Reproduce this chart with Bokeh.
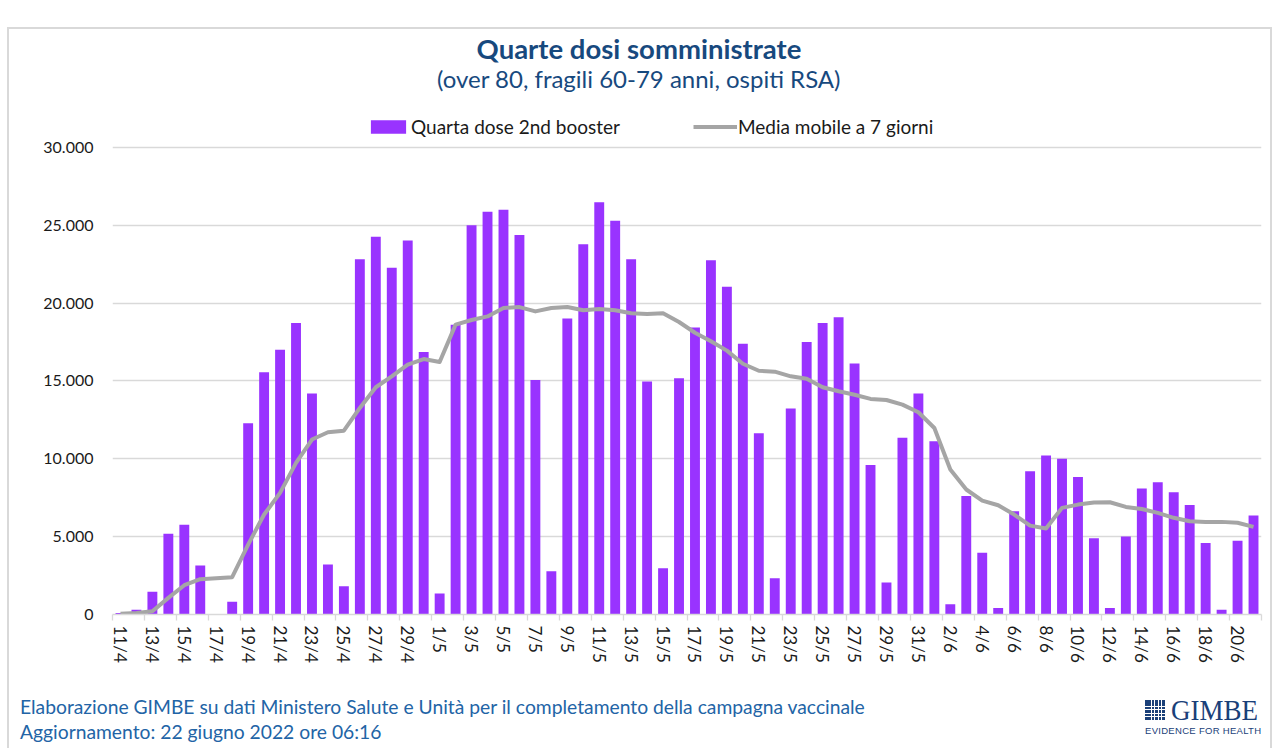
import math
from bokeh.plotting import figure
from bokeh.models import (ColumnDataSource, FixedTicker, Label, Legend, LegendItem,
                          Range1d, Div)
from bokeh.layouts import column
from bokeh.embed import file_html
from bokeh.resources import INLINE

# ---------------- data ----------------
dates = ["11/4", "12/4", "13/4", "14/4", "15/4", "16/4", "17/4", "18/4", "19/4", "20/4",
         "21/4", "22/4", "23/4", "24/4", "25/4", "26/4", "27/4", "28/4", "29/4", "30/4",
         "1/5", "2/5", "3/5", "4/5", "5/5", "6/5", "7/5", "8/5", "9/5", "10/5",
         "11/5", "12/5", "13/5", "14/5", "15/5", "16/5", "17/5", "18/5", "19/5", "20/5",
         "21/5", "22/5", "23/5", "24/5", "25/5", "26/5", "27/5", "28/5", "29/5", "30/5",
         "31/5", "1/6", "2/6", "3/6", "4/6", "5/6", "6/6", "7/6", "8/6", "9/6",
         "10/6", "11/6", "12/6", "13/6", "14/6", "15/6", "16/6", "17/6", "18/6", "19/6",
         "20/6", "21/6"]

quarta_dose = [100, 300, 1460, 5180, 5760, 3150, 0, 820, 12290, 15560,
               17000, 18730, 14190, 3210, 1820, 22820, 24270, 22280, 24030, 16870,
               1350, 18620, 25000, 25880, 26000, 24380, 15070, 2780, 19010, 23780,
               26480, 25300, 22820, 14960, 2970, 15170, 18430, 22750, 21060, 17400,
               11640, 2330, 13230, 17510, 18730, 19090, 16120, 9610, 2050, 11350,
               14190, 11130, 660, 7620, 3960, 410, 6630, 9200, 10210, 10000,
               8840, 4900, 410, 5010, 8090, 8500, 7850, 7040, 4600, 300,
               4730, 6360]

media_mobile = [50, 90, 210, 1070, 1880, 2270, 2330, 2400, 4490, 6420,
                7810, 9740, 11240, 11710, 11810, 13270, 14600, 15300, 16050, 16410,
                16220, 18620, 18920, 19150, 19690, 19750, 19470, 19690, 19750, 19540,
                19620, 19540, 19350, 19300, 19350, 18790, 18100, 17550, 16950, 16110,
                15660, 15600, 15300, 15150, 14600, 14340, 14120, 13850, 13780, 13480,
                12990, 11980, 9310, 8030, 7320, 7020, 6420, 5710, 5520, 6850,
                7060, 7190, 7210, 6910, 6780, 6530, 6210, 5990, 5950, 5950,
                5890, 5630]

y_ticks = [0, 5000, 10000, 15000, 20000, 25000, 30000]
y_tick_labels = ["0", "5.000", "10.000", "15.000", "20.000", "25.000", "30.000"]

title_text = "Quarte dosi somministrate"
subtitle_text = "(over 80, fragili 60-79 anni, ospiti RSA)"
legend_bar = "Quarta dose 2nd booster"
legend_line = "Media mobile a 7 giorni"
footer1 = "Elaborazione GIMBE su dati Ministero Salute e Unità per il completamento della campagna vaccinale"
footer2 = "Aggiornamento: 22 giugno 2022 ore 06:16"
logo_name = "GIMBE"
logo_tag = "EVIDENCE FOR HEALTH"

# ---------------- figure ----------------
W, H = 1261, 641
FONT = "Lato"
idx = list(range(len(dates)))
src = ColumnDataSource(dict(x=idx, dose=quarta_dose, media=media_mobile, d=dates))

# frame top is extended above 30.000 so that titles and legend sit inside the frame
p = figure(width=W, height=H, output_backend="svg", toolbar_location=None,
           x_range=Range1d(-0.5, len(dates) - 0.5), y_range=Range1d(0, 37580),
           min_border_left=103, min_border_right=9, min_border_top=0, min_border_bottom=56)
p.outline_line_color = None
p.background_fill_color = "white"
p.border_fill_color = "white"

bars = p.vbar(x="x", top="dose", width=0.62, source=src, fill_color="#9933FF", line_color=None)
line = p.line(x="x", y="media", source=src, line_color="#A5A5A5", line_width=4, line_join="round")

# y axis
p.yaxis.ticker = FixedTicker(ticks=y_ticks)
p.yaxis.major_label_overrides = {t: l for t, l in zip(y_ticks, y_tick_labels)}
p.yaxis.axis_line_color = None
p.yaxis.major_tick_line_color = None
p.yaxis.major_tick_out = 0
p.yaxis.major_tick_in = 0
p.yaxis.minor_tick_line_color = None
p.yaxis.major_label_standoff = 19
p.yaxis.major_label_text_font = FONT
p.yaxis.major_label_text_font_size = "16px"
p.yaxis.major_label_text_color = "#1a1a1a"
p.ygrid.grid_line_color = "#D9D9D9"
p.ygrid.grid_line_width = 1.3
p.xgrid.grid_line_color = None

# x axis: labels at every other bar, tick marks at every other category boundary
major = idx[::2]
minor = [i - 0.5 for i in idx[::2]] + [len(dates) - 0.5]
p.xaxis.ticker = FixedTicker(ticks=major, minor_ticks=minor)
p.xaxis.major_label_overrides = {i: dates[i] for i in major}
p.xaxis.major_label_orientation = -math.pi / 2
p.xaxis.major_tick_line_color = None
p.xaxis.major_tick_out = 0
p.xaxis.major_tick_in = 0
p.xaxis.minor_tick_line_color = "#D9D9D9"
p.xaxis.minor_tick_out = 6
p.xaxis.minor_tick_in = 0
p.xaxis.minor_tick_line_width = 1.3
p.xaxis.axis_line_color = "#D9D9D9"
p.xaxis.axis_line_width = 1.3
p.xaxis.major_label_standoff = 5
p.xaxis.major_label_text_font = FONT
p.xaxis.major_label_text_font_size = "17px"
p.xaxis.major_label_text_color = "#1a1a1a"

# legend (inside the extended frame, above the 30.000 grid line)
legend = Legend(items=[LegendItem(label=legend_bar, renderers=[bars]),
                       LegendItem(label=legend_line, renderers=[line])],
                orientation="horizontal", location=(254, 476),
                glyph_width=44, glyph_height=17, label_standoff=1, spacing=73,
                padding=0, margin=0, border_line_color=None, background_fill_alpha=0,
                label_text_font=FONT, label_text_font_size="19px", label_text_color="#1a1a1a",
                label_height=20)
p.add_layout(legend, "center")

def lab(text, x, y, size, color, style="normal", align="left", font=FONT):
    p.add_layout(Label(text=text, x=x, y=y, x_units="canvas", y_units="canvas",
                       text_font=font, text_font_size=size, text_color=color,
                       text_font_style=style, text_align=align, text_baseline="alphabetic"))

lab(title_text, 629.5, 19, "27.5px", "#17497E", style="bold", align="center")
lab(subtitle_text, 629.5, 49, "24px", "#17497E", align="center")

# ---------------- footer ----------------
cells = []
for r in range(6):
    for c in range(6):
        cells.append(
            f'<div style="position:absolute;left:{c * 3.4:.1f}px;top:{r * 3.4:.1f}px;'
            f'width:2.6px;height:2.6px;background:#1A4079;"></div>')
icon = ('<div style="position:absolute;left:1136px;top:30px;width:20px;height:20px;">'
        + "".join(cells) + "</div>")

footer_html = f"""
<div style="position:relative;width:1261px;height:78px;font-family:Lato;">
  <div style="position:absolute;left:11px;top:27px;font-size:19.3px;line-height:20px;color:#2264A6;white-space:nowrap;">{footer1}</div>
  <div style="position:absolute;left:11px;top:52px;font-size:19.3px;line-height:20px;color:#2264A6;white-space:nowrap;">{footer2}</div>
  {icon}
  <div style="position:absolute;left:1162px;top:25px;font-family:'Liberation Serif';font-size:30px;line-height:30px;color:#1A4079;white-space:nowrap;transform:scaleX(0.9);transform-origin:left;">{logo_name}</div>
  <div style="position:absolute;left:1136px;top:56px;font-family:'Liberation Sans';font-size:9.5px;line-height:10px;letter-spacing:0.3px;color:#1A4079;white-space:nowrap;">{logo_tag}</div>
</div>
"""
footer = Div(text=footer_html, width=W, height=78, margin=0)

layout = column(p, footer, margin=(27, 0, 0, 7), spacing=0,
                styles={"border-left": "2px solid #D9D9D9",
                        "border-top": "2px solid #D9D9D9",
                        "border-right": "2px solid #D9D9D9"})

open("out.html", "w").write(file_html(layout, INLINE))
